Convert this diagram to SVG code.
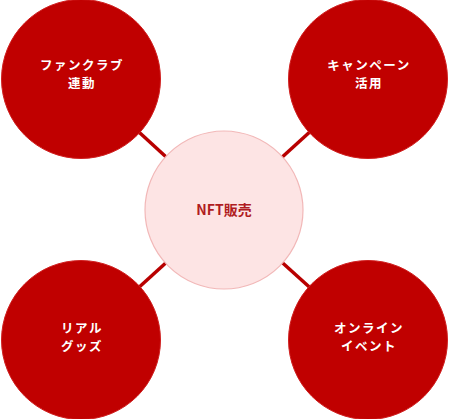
<svg xmlns="http://www.w3.org/2000/svg" width="450" height="419" viewBox="0 0 450 419">
<style>
.outer{fill:#c00000;stroke:#d02020;stroke-width:1}
.center{fill:#fde4e4;stroke:#f2b8b8;stroke-width:1.2}
.conn{stroke:#b80000;stroke-width:3.5;fill:none}
.lbl{font-family:"Noto Sans CJK JP","Noto Sans",sans-serif;font-weight:700;font-size:12.5px;fill:#ffffff;text-anchor:middle;letter-spacing:1.5px}
.clbl{font-family:"Noto Sans CJK JP","Noto Sans",sans-serif;font-weight:700;font-size:14px;fill:#b01c22;text-anchor:middle}
</style>
<rect width="450" height="419" fill="#ffffff"/>
<g id="connectors">
<line class="conn" x1="81" y1="79" x2="224" y2="210"/>
<line class="conn" x1="368" y1="79" x2="224" y2="210"/>
<line class="conn" x1="81" y1="340" x2="224" y2="210"/>
<line class="conn" x1="368" y1="340" x2="224" y2="210"/>
</g>
<g id="node-center">
<circle class="center" cx="224" cy="210" r="79"/>
<text class="clbl" x="224" y="215">NFT販売</text>
</g>
<g id="node-fanclub">
<circle class="outer" cx="81" cy="79" r="79.5"/>
<text class="lbl" x="82" y="70">ファンクラブ</text>
<text class="lbl" x="82" y="88">連動</text>
</g>
<g id="node-campaign">
<circle class="outer" cx="368" cy="79" r="79.5"/>
<text class="lbl" x="369" y="70">キャンペーン</text>
<text class="lbl" x="369" y="88">活用</text>
</g>
<g id="node-goods">
<circle class="outer" cx="81" cy="340" r="79.5"/>
<text class="lbl" x="82" y="333">リアル</text>
<text class="lbl" x="82" y="351">グッズ</text>
</g>
<g id="node-event">
<circle class="outer" cx="368" cy="340" r="79.5"/>
<text class="lbl" x="369" y="333">オンライン</text>
<text class="lbl" x="369" y="351">イベント</text>
</g>
</svg>
